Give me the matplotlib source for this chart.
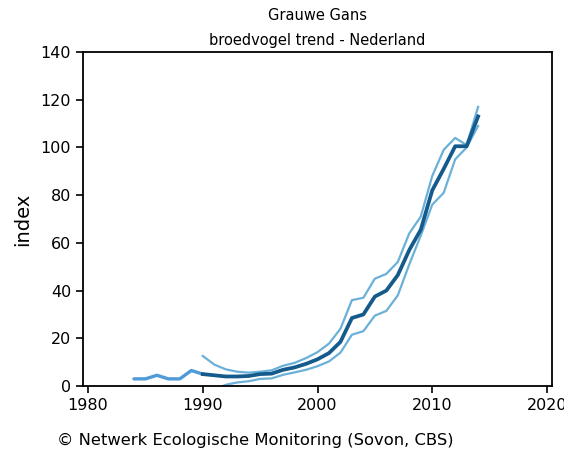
import numpy as np
import matplotlib
matplotlib.use("Agg")
import matplotlib.pyplot as plt

# early series (before trend estimate)
early_years = [1984, 1985, 1986, 1987, 1988, 1989, 1990]
early_index = [3.0, 3.0, 4.5, 3.0, 3.0, 6.5, 5.0]

years = list(range(1990, 2015))
index = [5.0, 4.5, 4.0, 4.0, 4.2, 5.0, 5.2, 6.8, 7.8, 9.3, 11.2, 13.8, 18.5,
         28.5, 30.0, 37.5, 40.0, 46.5, 57.0, 65.5, 82.0, 91.0, 100.5, 100.5, 113.0]
upper = [12.6, 9.0, 7.0, 6.0, 5.6, 6.0, 6.6, 8.5, 9.7, 11.7, 14.2, 17.8, 24.0,
         36.0, 37.0, 45.0, 47.0, 52.0, 64.0, 71.0, 88.0, 99.0, 104.0, 101.0, 117.0]
lower = [-4.0, -1.5, 0.5, 1.5, 2.0, 3.0, 3.2, 4.7, 5.7, 6.8, 8.3, 10.3, 14.0,
         21.5, 23.0, 29.5, 31.5, 38.0, 51.0, 63.0, 76.0, 81.0, 95.0, 100.0, 109.0]

footer = "\u00a9 Netwerk Ecologische Monitoring (Sovon, CBS)"

plt.rcParams["font.family"] = ["DejaVu Sans"]

fig = plt.figure(figsize=(5.64, 4.55), dpi=100)
ax = fig.add_axes([0.1472, 0.1516, 0.8315, 0.7341])

ax.plot(early_years, early_index, color="#4f9ad8", lw=2.4, solid_capstyle="round")
ax.plot(years, upper, color="#6ab0d8", lw=1.6)
ax.plot(years, lower, color="#6ab0d8", lw=1.6)
ax.plot(years, index, color="#145a8c", lw=2.7)

ax.set_xlim(1979.56, 2020.44)
ax.set_ylim(0, 140)
ax.set_xticks([1980, 1990, 2000, 2010, 2020])
ax.set_yticks(range(0, 141, 20))
ax.tick_params(direction="out", length=5, width=1.2, labelsize=11.5, colors="black")
for s in ax.spines.values():
    s.set_linewidth(1.3)

ax.set_ylabel("index", fontsize=14, labelpad=6)
fig.text(0.563, 0.967, "Grauwe Gans", ha="center", va="center", fontsize=10.5)
fig.text(0.563, 0.912, "broedvogel trend - Nederland", ha="center", va="center", fontsize=10.5)
fig.text(0.101, 0.031, footer, ha="left", va="center", fontsize=11.8)

fig.savefig("out.png", dpi=100)
